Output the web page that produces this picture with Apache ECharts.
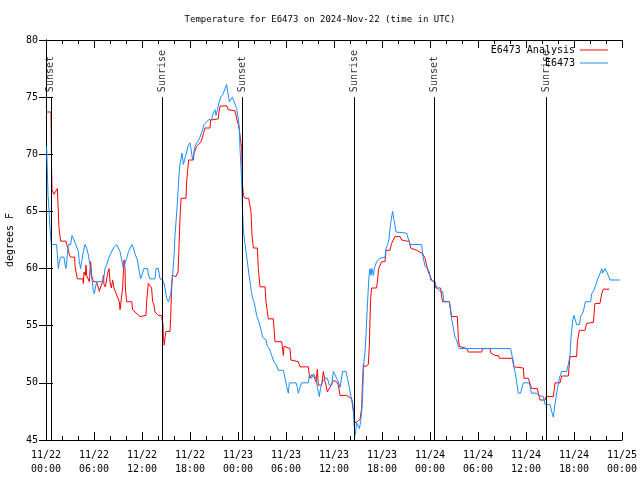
<!DOCTYPE html>
<html><head><meta charset="utf-8">
<script src="https://cdn.jsdelivr.net/npm/echarts@6/dist/echarts.min.js"></script>
<style>html,body{margin:0;padding:0;background:#fff}#c{width:640px;height:480px}</style>
</head><body><div id="c"></div>
<script>
// ---- data (hours since 2024-11-22 00:00 UTC, degrees F) ----
const xTickLabels = ['11/22\n00:00','11/22\n06:00','11/22\n12:00','11/22\n18:00','11/23\n00:00','11/23\n06:00','11/23\n12:00','11/23\n18:00','11/24\n00:00','11/24\n06:00','11/24\n12:00','11/24\n18:00','11/25\n00:00'];
const sunTimes = [0.6, 14.55, 24.55, 38.55, 48.55, 62.5];
const sunLabels = ['Sunset','Sunrise','Sunset','Sunrise','Sunset','Sunrise'];

const analysisT = [0.08,0.62,0.65,0.7,0.75,1.0,1.17,1.42,1.54,1.62,1.83,2.5,2.58,2.75,2.92,3.08,3.58,3.62,3.75,3.92,4.58,4.67,4.75,4.92,5.0,5.08,5.25,5.42,5.58,5.71,5.92,6.33,6.67,6.83,7.0,7.08,7.17,7.25,7.42,7.58,7.71,7.88,8.0,8.17,8.33,8.5,8.67,8.83,9.0,9.17,9.25,9.5,9.58,9.75,9.88,9.92,10.08,10.71,10.83,11.75,11.96,12.5,12.58,12.79,13.0,13.2,13.33,13.5,13.62,14.04,14.46,14.54,14.62,14.67,14.79,14.88,15.0,15.5,15.58,15.67,15.79,16.0,16.25,16.5,16.62,16.75,16.88,17.5,17.58,17.71,17.83,18.42,18.5,18.67,18.83,19.25,19.46,19.67,19.88,20.5,20.58,21.54,21.62,21.75,22.58,22.79,23.62,23.75,23.92,24.04,24.17,24.4,24.46,24.54,24.67,24.88,25.08,25.33,25.5,25.62,25.75,25.92,26.42,26.54,26.75,27.38,27.5,27.79,28.42,28.62,29.46,29.67,29.75,30.5,30.62,30.71,31.54,31.75,32.79,32.92,33.0,33.2,33.5,33.75,33.92,34.04,34.25,34.46,34.67,34.88,35.0,35.17,35.42,35.71,35.92,36.33,36.54,36.75,37.58,37.79,38.2,38.33,38.5,38.62,38.92,39.08,39.25,39.38,39.46,39.54,39.67,39.88,40.29,40.42,40.5,40.58,40.71,41.33,41.46,41.58,41.83,41.96,42.38,42.5,43.0,43.2,43.62,44.25,44.46,45.08,45.42,45.58,46.33,46.54,47.08,47.38,47.58,47.79,48.0,48.2,48.5,48.75,49.33,49.46,49.58,50.42,50.71,51.42,51.54,51.67,52.58,52.79,54.46,54.58,55.5,55.62,56.12,56.54,56.67,58.33,58.5,59.67,59.75,60.29,60.71,61.42,61.54,61.75,62.38,62.5,63.42,63.62,64.25,64.46,65.29,65.5,66.33,66.42,66.67,67.38,67.58,67.79,68.42,68.62,69.25,69.46,69.67,70.42];
const analysisV = [73.7,73.7,72.0,68.8,66.9,66.5,66.7,67.0,67.0,63.6,62.4,62.4,62.1,61.8,61.2,61.0,61.0,60.3,59.7,59.1,59.1,58.7,59.7,59.4,60.3,59.4,59.4,58.85,60.6,59.4,58.85,58.85,58.0,58.4,58.3,58.85,59.4,58.6,58.4,58.3,59.6,60.0,58.85,58.3,59.0,58.3,58.4,57.7,57.7,57.1,56.4,56.4,58.3,60.75,60.0,58.3,57.1,57.1,56.4,55.8,55.9,55.9,57.1,58.7,58.85,58.3,57.1,56.8,56.2,55.9,55.9,55.4,55.2,54.0,53.3,54.0,54.5,54.5,55.6,57.7,59.4,59.4,59.3,59.7,61.8,64.4,66.15,66.15,67.6,68.6,69.5,69.5,70.1,70.4,70.7,71.0,71.25,71.8,72.3,72.3,73.0,73.1,73.7,74.2,74.25,73.9,73.8,73.4,72.85,72.6,72.1,72.1,70.5,67.6,66.4,66.15,66.3,66.15,66.0,65.0,62.9,61.8,61.8,60.0,58.4,58.4,57.1,55.6,55.6,53.6,53.6,52.4,53.2,53.0,52.0,51.85,51.85,51.4,51.4,50.7,50.4,50.7,50.55,50.1,51.2,49.8,49.9,49.8,51.0,50.1,49.8,49.2,49.35,49.9,50.2,50.1,49.8,48.9,48.9,48.8,48.6,48.6,47.2,46.5,46.6,46.5,46.8,46.9,47.8,49.6,51.6,51.4,51.6,53.3,55.6,57.4,58.3,58.3,59.1,60.0,60.0,60.6,60.6,61.6,61.6,62.2,62.8,62.8,62.5,62.4,62.4,61.8,61.6,61.5,61.3,60.9,60.3,59.7,59.4,59.0,58.85,58.3,58.3,57.5,57.1,57.1,55.8,55.8,53.9,53.2,53.0,52.7,52.7,53.0,53.0,52.6,52.4,52.4,52.15,52.15,51.4,51.3,50.4,50.4,49.5,49.5,49.1,48.5,48.5,48.8,48.8,50.0,50.0,50.6,50.6,52.3,52.3,53.6,54.6,54.6,55.2,55.3,55.3,56.95,56.95,57.8,58.2,58.2];

const stationT = [0.08,0.17,0.25,0.42,0.5,0.67,1.33,1.42,1.54,1.67,1.83,2.25,2.38,2.5,2.67,2.79,3.08,3.25,3.5,3.67,3.83,4.04,4.17,4.33,4.46,4.67,4.88,5.08,5.29,5.5,5.62,5.79,5.92,6.04,6.17,6.33,7.17,7.38,7.58,7.83,8.08,8.42,8.83,9.08,9.25,9.42,9.67,9.92,10.08,10.33,10.58,10.75,10.92,11.17,11.42,11.67,11.83,12.08,12.25,12.67,12.83,13.0,13.62,13.75,14.04,14.25,14.58,14.75,14.88,15.08,15.29,15.5,15.58,15.71,15.83,15.92,16.04,16.12,16.25,16.38,16.5,16.62,16.75,16.88,17.0,17.17,17.29,17.42,17.58,17.79,18.0,18.12,18.33,18.5,18.67,18.92,19.08,19.25,19.46,19.58,19.75,20.0,20.29,20.71,20.92,21.12,21.25,21.42,21.62,21.83,22.08,22.25,22.42,22.58,22.71,22.92,23.08,23.29,23.5,23.67,23.83,24.04,24.17,24.25,24.38,24.5,24.58,24.67,24.83,25.0,25.17,25.33,25.5,25.67,25.83,26.0,26.17,26.33,26.58,26.83,27.08,27.5,27.67,27.92,28.2,28.5,28.75,29.04,29.67,29.88,30.08,30.29,30.42,31.25,31.42,31.54,31.75,31.96,32.79,32.92,33.08,33.2,33.42,33.62,33.75,33.92,34.17,34.33,34.58,34.88,35.17,35.42,35.71,35.92,36.12,36.33,36.54,36.75,37.08,37.5,37.67,37.92,38.08,38.33,38.42,38.5,38.62,38.75,38.83,39.04,39.17,39.33,39.46,39.58,39.67,39.75,39.88,40.0,40.08,40.2,40.29,40.38,40.5,40.62,40.75,40.92,41.04,41.17,41.33,41.54,41.75,41.96,42.38,42.5,42.71,42.88,43.0,43.12,43.25,43.33,43.46,43.62,43.75,43.92,45.08,45.29,45.5,46.96,47.08,47.38,47.67,47.92,48.08,48.62,48.83,49.25,49.58,49.75,50.42,50.58,50.71,50.92,51.12,51.33,51.54,51.67,58.08,58.25,58.42,58.62,58.83,59.04,59.33,59.5,59.67,60.42,60.58,60.71,61.33,61.54,61.75,62.17,62.38,63.0,63.2,63.42,63.62,63.75,63.92,64.17,64.46,65.08,65.29,65.5,65.62,65.83,66.0,66.12,66.33,66.67,66.83,67.08,67.25,67.42,68.08,68.21,68.42,68.75,68.92,69.17,69.33,69.46,69.58,69.75,69.88,70.08,70.29,70.5,71.75];
const stationV = [70.7,68.5,66.4,64.7,63.5,62.1,62.1,61.2,60.0,60.6,61.0,61.0,60.3,60.0,61.2,62.1,62.1,62.9,62.9,62.2,62.1,61.5,60.6,60.0,60.6,61.5,62.1,61.8,61.2,60.3,59.6,58.85,58.0,57.8,58.3,58.85,58.85,60.0,60.3,60.9,61.3,61.8,62.1,62.1,61.5,60.9,60.0,60.0,60.9,61.5,61.9,62.1,61.8,61.2,60.75,59.7,59.1,59.1,60.0,60.0,59.4,59.1,59.1,60.0,60.0,59.1,59.0,58.7,58.3,57.4,57.1,57.1,57.7,58.6,59.4,60.3,61.5,62.9,64.1,65.3,66.7,68.2,69.1,69.6,70.1,69.1,69.1,69.8,70.2,70.8,71.0,70.5,69.5,70.2,70.8,70.96,71.25,71.5,71.9,72.0,72.6,72.7,73.0,73.1,73.6,73.9,73.4,73.9,74.5,75.0,75.2,75.3,75.8,76.1,75.5,74.6,74.6,75.0,75.0,74.3,74.0,73.1,72.3,70.5,68.8,66.7,64.8,63.4,62.4,61.5,60.6,59.7,58.85,58.0,57.4,57.1,56.5,55.9,55.4,54.8,54.0,53.75,53.2,53.0,52.4,51.85,51.6,51.1,51.1,50.4,49.7,49.1,50.0,50.0,49.6,49.1,49.6,50.0,50.0,50.7,50.7,50.4,50.8,50.9,50.4,49.6,48.8,49.6,50.1,50.4,50.4,49.8,49.8,51.0,51.0,50.4,50.1,49.6,51.0,51.0,50.4,49.6,48.9,48.3,47.5,46.5,45.4,46.0,46.5,46.6,46.0,46.6,47.5,48.9,51.0,51.9,52.7,54.2,55.4,57.1,58.3,59.4,60.0,59.4,60.0,59.4,60.0,60.3,60.6,60.6,60.9,61.0,61.0,61.8,62.1,62.6,63.5,64.1,64.7,65.0,64.4,63.8,63.2,63.1,63.1,62.6,62.1,62.1,61.2,60.2,60.0,59.7,59.0,58.85,58.3,58.0,58.0,57.1,57.1,56.2,55.6,54.8,54.0,53.75,53.2,53.0,53.0,52.4,51.6,51.0,50.1,49.1,49.1,49.6,50.0,50.0,49.4,49.1,49.1,48.9,48.8,48.8,48.1,48.1,47.5,47.0,48.1,48.7,49.5,50.4,51.0,51.0,51.6,52.4,53.9,55.4,55.9,55.9,55.1,55.1,55.8,56.1,56.5,57.1,57.1,57.8,58.0,58.6,59.0,59.0,59.7,60.0,59.6,59.6,60.0,60.0,59.4,59.0,59.0];

const FONT = '"DejaVu Sans Mono", monospace';
const zip = (t, v) => t.map((x, i) => [x, v[i]]);

const chart = echarts.init(document.getElementById('c'), null, {renderer: 'canvas'});
const axisLine = {show: true, lineStyle: {color: '#000', width: 1}};
chart.setOption({
  animation: false,
  backgroundColor: '#fff',
  title: {
    text: 'Temperature for E6473 on 2024-Nov-22 (time in UTC)',
    left: 'center', top: 14, padding: 0,
    textStyle: {fontFamily: FONT, fontSize: 9, fontWeight: 'normal', color: '#000', lineHeight: 12}
  },
  legend: [
    {data: ['E6473 Analysis'], right: 32, top: 44, padding: 0, icon: 'rect', itemWidth: 28, itemHeight: 1,
     textStyle: {fontFamily: FONT, fontSize: 10, color: '#000', lineHeight: 12}, align: 'right'},
    {data: ['E6473'], right: 32, top: 57, padding: 0, icon: 'rect', itemWidth: 28, itemHeight: 1,
     textStyle: {fontFamily: FONT, fontSize: 10, color: '#000', lineHeight: 12}, align: 'right'}
  ],
  grid: {left: 46, right: 18, top: 40, bottom: 40, containLabel: false, outerBoundsMode: 'none'},
  xAxis: [
    {type: 'value', min: 0, max: 72, interval: 6, position: 'bottom',
     axisLine: axisLine,
     axisTick: {show: true, inside: true, length: 8, lineStyle: {color: '#000'}},
     minorTick: {show: true, splitNumber: 3, length: 4, lineStyle: {color: '#000'}},
     splitLine: {show: false},
     axisLabel: {margin: 8, fontFamily: FONT, fontSize: 10, color: '#000', lineHeight: 14,
       formatter: v => xTickLabels[Math.round(v / 6)]}},
    {type: 'value', min: 0, max: 72, interval: 6, position: 'top',
     axisLine: axisLine,
     axisTick: {show: true, inside: true, length: 8, lineStyle: {color: '#000'}},
     minorTick: {show: true, splitNumber: 3, length: 4, lineStyle: {color: '#000'}},
     splitLine: {show: false}, axisLabel: {show: false}}
  ],
  yAxis: [
    {type: 'value', min: 45, max: 80, interval: 5, position: 'left',
     name: 'degrees F', nameLocation: 'middle', nameRotate: 90, nameGap: 30,
     nameTextStyle: {fontFamily: FONT, fontSize: 10, color: '#000'},
     axisLine: axisLine,
     axisTick: {show: true, inside: true, length: 7, lineStyle: {color: '#000'}},
     splitLine: {show: false},
     axisLabel: {margin: 8, fontFamily: FONT, fontSize: 10, color: '#000'}},
    {type: 'value', min: 45, max: 80, interval: 5, position: 'right',
     axisLine: axisLine,
     axisTick: {show: true, inside: true, length: 7, lineStyle: {color: '#000'}},
     splitLine: {show: false}, axisLabel: {show: false}}
  ],
  series: [
    {name: 'E6473 Analysis', type: 'line', data: zip(analysisT, analysisV), symbol: 'none',
     color: '#ff0000', lineStyle: {color: '#ff0000', width: 1}, z: 3},
    {name: 'E6473', type: 'line', data: zip(stationT, stationV), symbol: 'none',
     color: '#1a8cff', lineStyle: {color: '#1a8cff', width: 1}, z: 4},
    {name: 'sun', type: 'scatter', data: sunTimes.map(t => [t, 75]), symbolSize: 0, silent: true, z: 5,
     label: {show: true, position: 'top', distance: 5, rotate: 90, align: 'left', verticalAlign: 'middle',
       fontFamily: FONT, fontSize: 10, color: '#000',
       formatter: p => sunLabels[p.dataIndex]},
     markLine: {silent: true, symbol: 'none', label: {show: false},
       lineStyle: {color: '#000', width: 1, type: 'solid'},
       data: sunTimes.map(t => [{coord: [t, 45]}, {coord: [t, 75]}])}}
  ]
});
</script></body></html>
